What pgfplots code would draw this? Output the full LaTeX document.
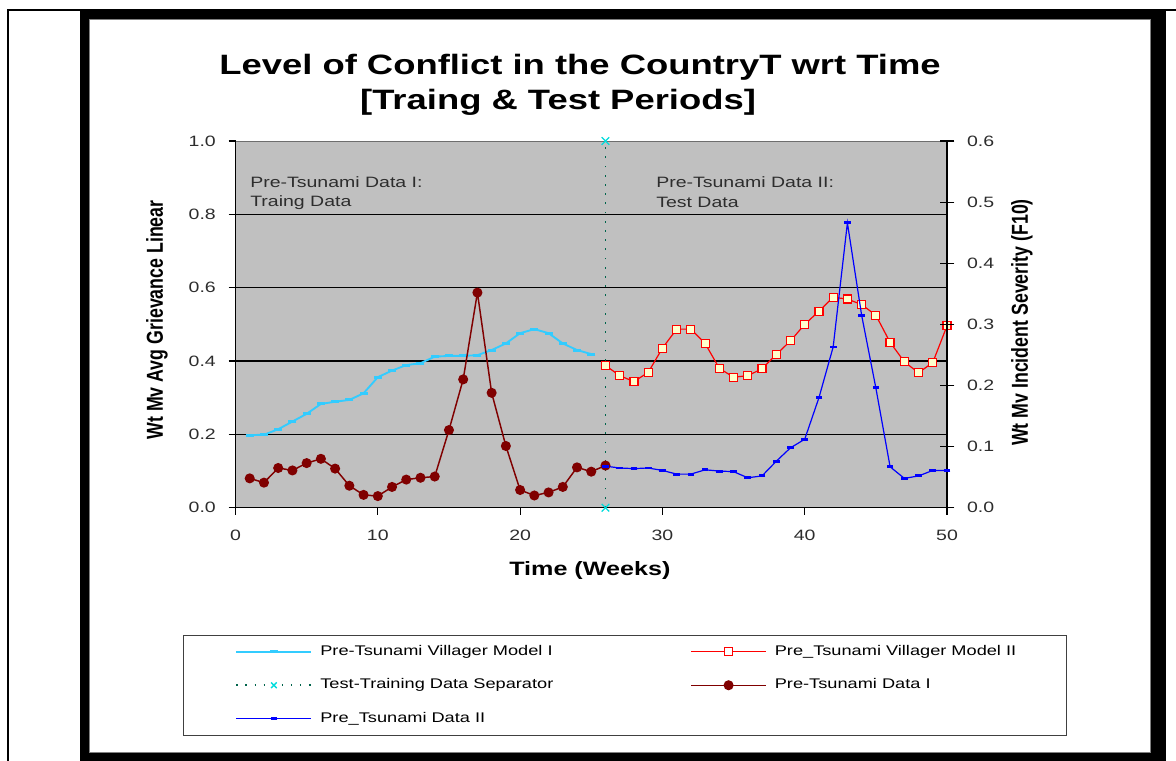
\documentclass[border=0pt]{standalone}
\usepackage{fontspec}
\setmainfont{Liberation Sans}
\newfontfamily\wfont[FakeStretch=1.3]{Liberation Sans}
\newfontfamily\rfont[FakeStretch=0.77]{Liberation Sans}
\usepackage{pgfplots}
\pgfplotsset{compat=1.18}
\definecolor{plotgray}{RGB}{192,192,192}
\definecolor{cyanM}{RGB}{51,204,255}
\definecolor{redM}{RGB}{255,0,0}
\definecolor{yelM}{RGB}{255,255,204}
\definecolor{darkR}{RGB}{128,0,0}
\definecolor{blueD}{RGB}{0,0,255}
\definecolor{sepG}{RGB}{0,100,75}
\definecolor{sepC}{RGB}{0,220,220}
\definecolor{tickgray}{RGB}{45,45,45}
\begin{document}
\begin{tikzpicture}
\begin{scope}[x=0.75pt,y=-0.75pt]
\useasboundingbox (0,0) rectangle (1176,760);
\fill[white] (0,0) rectangle (1176,760);
\draw[line width=1.3pt] (8,762) -- (8,10) -- (1178,10);
\fill[black] (80,9) rectangle (1166,762);
\fill[white] (89,19) rectangle (1150,752);
\draw[gray, line width=0.6pt] (89,19) rectangle (1150,752);
\node[font=\wfont\bfseries\fontsize{21}{25}\selectfont] at (580,67) {Level of Conflict in the CountryT wrt Time};
\node[font=\wfont\bfseries\fontsize{21}{25}\selectfont] at (558,102) {[Traing \& Test Periods]};
\end{scope}

\begin{axis}[
 at={(176.625pt,-380.775pt)}, anchor=south west,
 scale only axis, width=533.625pt, height=275pt,
 xmin=0, xmax=50, ymin=0, ymax=1,
 axis x line*=bottom, axis y line*=left,
 axis line style={black, line width=1.1pt},
 axis background/.style={fill=plotgray, draw={rgb,255:red,110;green,110;blue,110}, line width=0.5pt},
 xtick={0,10,20,30,40,50}, ytick={0,0.2,0.4,0.6,0.8,1.0},
 tick align=outside, major tick length=5.25pt,
 tick style={black, line width=0.9pt},
 extra y ticks={0.2,0.4,0.6,0.8}, extra y tick labels={},
 extra y tick style={grid=major, major tick length=0pt},
 grid style={black, line width=1pt},
 y tick label style={/pgf/number format/.cd, fixed, fixed zerofill, precision=1, /tikz/.cd, xshift=-6pt},
 x tick label style={yshift=-8pt},
 /pgf/number format/assume math mode=true,
 tick label style={font=\wfont\fontsize{11.25}{13}\selectfont, text=tickgray},
 xlabel={Time (Weeks)}, ylabel={Wt Mv Avg Grievance Linear},
 xlabel style={at={(axis description cs:0.498,-0.170)}, anchor=center, font=\wfont\bfseries\fontsize{14.5}{17}\selectfont},
 ylabel style={at={(axis description cs:-0.1103,0.512)}, anchor=center, font=\rfont\bfseries\fontsize{17.3}{20}\selectfont},
 clip=true,
]
\addplot[cyanM, line width=1.4pt, mark=-, mark size=3pt, mark options={line width=2.2pt}] coordinates {
(1,0.198) (2,0.199) (3,0.214) (4,0.235) (5,0.256) (6,0.283) (7,0.289) (8,0.294) (9,0.312) (10,0.356)
(11,0.374) (12,0.389) (13,0.394) (14,0.412) (15,0.414) (16,0.414) (17,0.416) (18,0.430) (19,0.448) (20,0.476)
(21,0.487) (22,0.476) (23,0.448) (24,0.430) (25,0.419)};
\addplot[redM, line width=0.9pt, mark=square*, mark size=3pt, mark options={fill=yelM, draw=redM, line width=0.9pt}] coordinates {
(26,0.388) (27,0.360) (28,0.344) (29,0.369) (30,0.435) (31,0.487) (32,0.487) (33,0.448) (34,0.380) (35,0.356)
(36,0.360) (37,0.379) (38,0.418) (39,0.455) (40,0.500) (41,0.536) (42,0.574) (43,0.569) (44,0.554) (45,0.525)
(46,0.451) (47,0.398) (48,0.368) (49,0.396) (50,0.496)};
\addplot[sepG, line width=1.3pt, dash pattern=on 1.3pt off 5.6pt, mark=x, mark size=4pt, mark options={solid, sepC, line width=1pt}] coordinates {(26,0) (26,1)};
\node[anchor=west, inner sep=0pt, font=\wfont\fontsize{11.25}{13}\selectfont, text=tickgray] at (axis cs:1.02,0.888) {Pre-Tsunami Data I:};
\node[anchor=west, inner sep=0pt, font=\wfont\fontsize{11.25}{13}\selectfont, text=tickgray] at (axis cs:1.02,0.833) {Traing Data};
\node[anchor=west, inner sep=0pt, font=\wfont\fontsize{11.25}{13}\selectfont, text=tickgray] at (axis cs:29.55,0.888) {Pre-Tsunami Data II:};
\node[anchor=west, inner sep=0pt, font=\wfont\fontsize{11.25}{13}\selectfont, text=tickgray] at (axis cs:29.55,0.833) {Test Data};
\end{axis}

\begin{axis}[
 at={(176.625pt,-380.775pt)}, anchor=south west,
 scale only axis, width=533.625pt, height=275pt,
 xmin=0, xmax=50, ymin=0, ymax=0.6,
 axis x line=none, axis y line*=right,
 axis line style={black, line width=1.1pt},
 ytick={0,0.1,0.2,0.3,0.4,0.5,0.6},
 tick align=center, major tick length=11pt,
 tick style={black, line width=0.9pt},
 y tick label style={/pgf/number format/.cd, fixed, fixed zerofill, precision=1, /tikz/.cd, xshift=6pt},
 /pgf/number format/assume math mode=true,
 tick label style={font=\wfont\fontsize{11.25}{13}\selectfont, text=tickgray},
 ylabel={Wt Mv Incident Severity (F10)},
 ylabel style={at={(axis description cs:1.1054,0.505)}, anchor=center, rotate=0, font=\rfont\bfseries\fontsize{17.3}{20}\selectfont},
 clip=true,
 legend columns=2,
 legend cell align=left,
 legend style={at={(axis description cs:-0.0738,-0.347)}, anchor=north west,
   draw={rgb,255:red,64;green,64;blue,64}, line width=0.75pt, fill=white,
   inner xsep=39pt, inner ysep=7pt, row sep=14.6pt,
   font=\wfont\fontsize{10.5}{12}\selectfont,
   nodes={inner sep=0pt, text height=8pt, text depth=2.5pt},
   /tikz/every odd column/.append style={column sep=6pt}},
 legend image code/.code={\draw[mark repeat=2,mark phase=2,#1] plot coordinates {(0pt,0pt) (28.125pt,0pt) (56.25pt,0pt)};},
]
\addlegendimage{cyanM, line width=1.4pt, mark=-, mark size=3pt, mark options={line width=2.2pt}}
\addlegendentry{\makebox[277.5pt][l]{Pre-Tsunami Villager Model I}}
\addlegendimage{redM, line width=0.9pt, mark=square*, mark size=3pt, mark options={fill=white, draw=redM, line width=0.9pt}}
\addlegendentry{\makebox[180pt][l]{Pre\_Tsunami Villager Model II}}
\addlegendimage{sepG, line width=1.2pt, dash pattern=on 1.2pt off 5.6pt, mark=x, mark size=3pt, mark options={solid, sepC, line width=1pt}}
\addlegendentry{\makebox[277.5pt][l]{Test-Training Data Separator}}
\addplot[darkR, line width=1.1pt, mark=*, mark size=3.2pt, mark options={fill=darkR, draw=darkR}] coordinates {
(1,0.048) (2,0.041) (3,0.065) (4,0.061) (5,0.073) (6,0.080) (7,0.064) (8,0.036) (9,0.021) (10,0.019)
(11,0.034) (12,0.046) (13,0.049) (14,0.051) (15,0.127) (16,0.210) (17,0.352) (18,0.188) (19,0.101) (20,0.029)
(21,0.020) (22,0.025) (23,0.034) (24,0.066) (25,0.059) (26,0.069)};
\addlegendentry{\makebox[180pt][l]{Pre-Tsunami Data I}}
\addplot[blueD, line width=0.9pt, mark=-, mark size=2.5pt, mark options={line width=2.2pt}] coordinates {
(26,0.068) (27,0.065) (28,0.064) (29,0.065) (30,0.061) (31,0.055) (32,0.055) (33,0.062) (34,0.060) (35,0.059)
(36,0.049) (37,0.052) (38,0.076) (39,0.098) (40,0.112) (41,0.180) (42,0.263) (43,0.466) (44,0.315) (45,0.196)
(46,0.067) (47,0.048) (48,0.052) (49,0.061) (50,0.061)};
\addlegendentry{\makebox[277.5pt][l]{Pre\_Tsunami Data II}}
\end{axis}
\end{tikzpicture}
\end{document}
